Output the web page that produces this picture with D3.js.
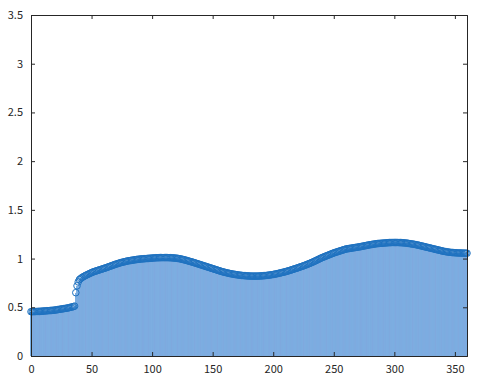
<!DOCTYPE html>
<html>
<head>
<meta charset="utf-8">
<script src="https://cdn.jsdelivr.net/npm/d3@7"></script>
<style>
  html, body { margin: 0; padding: 0; background: #fff; }
  svg { display: block; }
  text { font-family: "Noto Sans CJK JP", "Noto Sans", sans-serif; font-size: 11px; fill: #262626; }
</style>
</head>
<body>
<svg id="chart" width="477" height="378"></svg>
<script>
// Sample positions (degrees) and measured values
const angles = d3.range(0, 361);
const values = [
  0.455,0.455,0.456,0.456,0.457,0.457,0.458,0.458,0.459,0.460,
  0.461,0.462,0.463,0.464,0.465,0.466,0.467,0.468,0.469,0.470,
  0.472,0.474,0.476,0.478,0.480,0.482,0.484,0.486,0.488,0.490,
  0.492,0.495,0.498,0.501,0.504,0.507,0.512,0.650,0.720,0.760,
  0.785,0.795,0.805,0.812,0.819,0.826,0.832,0.838,0.844,0.850,
  0.856,0.861,0.866,0.870,0.874,0.878,0.882,0.886,0.890,0.894,
  0.898,0.902,0.906,0.911,0.915,0.920,0.924,0.929,0.933,0.938,
  0.942,0.946,0.950,0.954,0.958,0.961,0.964,0.967,0.970,0.973,
  0.976,0.978,0.980,0.982,0.984,0.986,0.988,0.990,0.992,0.993,
  0.995,0.996,0.997,0.998,0.999,1.000,1.001,1.002,1.003,1.004,
  1.005,1.006,1.007,1.008,1.008,1.009,1.009,1.010,1.010,1.010,
  1.010,1.010,1.010,1.010,1.009,1.009,1.008,1.007,1.006,1.005,
  1.004,1.002,1.000,0.998,0.995,0.992,0.989,0.986,0.983,0.979,
  0.975,0.972,0.968,0.965,0.961,0.957,0.953,0.949,0.945,0.941,
  0.937,0.933,0.929,0.925,0.921,0.917,0.913,0.909,0.905,0.901,
  0.897,0.893,0.889,0.885,0.881,0.877,0.873,0.869,0.865,0.862,
  0.859,0.856,0.853,0.850,0.847,0.845,0.842,0.840,0.838,0.836,
  0.834,0.832,0.830,0.829,0.827,0.826,0.825,0.824,0.823,0.822,
  0.821,0.821,0.820,0.820,0.820,0.820,0.820,0.820,0.821,0.821,
  0.822,0.823,0.824,0.825,0.826,0.828,0.829,0.831,0.833,0.835,
  0.837,0.839,0.842,0.844,0.847,0.850,0.853,0.856,0.859,0.862,
  0.865,0.869,0.872,0.876,0.880,0.884,0.888,0.892,0.896,0.900,
  0.904,0.908,0.913,0.917,0.921,0.926,0.930,0.935,0.940,0.945,
  0.950,0.955,0.961,0.966,0.972,0.978,0.984,0.990,0.996,1.002,
  1.008,1.013,1.018,1.023,1.028,1.033,1.038,1.043,1.048,1.053,
  1.058,1.062,1.066,1.070,1.074,1.078,1.082,1.086,1.090,1.094,
  1.098,1.100,1.102,1.104,1.106,1.108,1.110,1.112,1.114,1.116,
  1.118,1.120,1.122,1.125,1.127,1.130,1.132,1.135,1.137,1.140,
  1.142,1.144,1.146,1.148,1.150,1.152,1.154,1.155,1.156,1.157,
  1.158,1.159,1.160,1.161,1.162,1.163,1.164,1.164,1.165,1.165,
  1.165,1.165,1.165,1.165,1.164,1.164,1.163,1.162,1.161,1.160,
  1.159,1.157,1.155,1.153,1.151,1.149,1.147,1.145,1.142,1.140,
  1.137,1.134,1.131,1.128,1.125,1.122,1.119,1.116,1.113,1.110,
  1.107,1.104,1.101,1.098,1.095,1.092,1.089,1.086,1.083,1.080,
  1.077,1.074,1.072,1.070,1.068,1.066,1.064,1.063,1.062,1.061,
  1.060,1.059,1.058,1.058,1.057,1.057,1.056,1.056,1.056,1.055,
  1.055
];
const xTicks = [0, 50, 100, 150, 200, 250, 300, 350];
const yTicks = [0, 0.5, 1, 1.5, 2, 2.5, 3, 3.5];

const svg = d3.select("#chart");
const plotLeft = 31, plotRight = 467, plotTop = 15, plotBottom = 356;

const x = d3.scaleLinear().domain([0, 360]).range([plotLeft, plotRight]);
const y = d3.scaleLinear().domain([0, 3.5]).range([plotBottom, plotTop]);

const pts = angles.map((a, i) => ({ a, v: values[i] }));
const step = x(1) - x(0);

// Filled columns under each sample
svg.append("g")
  .selectAll("rect")
  .data(pts)
  .join("rect")
  .attr("x", d => x(d.a) - step / 2)
  .attr("width", step + 0.05)
  .attr("y", d => y(d.v))
  .attr("height", d => y(0) - y(d.v))
  .attr("fill", "#79bbea")
  .attr("shape-rendering", "crispEdges");

// Thin stems, one per sample
svg.append("g")
  .selectAll("line")
  .data(pts)
  .join("line")
  .attr("x1", d => x(d.a))
  .attr("x2", d => x(d.a))
  .attr("y1", y(0))
  .attr("y2", d => y(d.v))
  .attr("stroke", "#8c82c6")
  .attr("stroke-width", 0.32);

// Circle markers at each sample
svg.append("g")
  .selectAll("circle")
  .data(pts)
  .join("circle")
  .attr("cx", d => x(d.a))
  .attr("cy", d => y(d.v))
  .attr("r", 3.3)
  .attr("fill", "none")
  .attr("stroke", "#1f72c0")
  .attr("stroke-width", 1);

// Axes box with inward ticks on all sides
const axisColor = "#262626";
const tickLen = 4;

const xAxis = svg.append("g").attr("transform", `translate(0,${plotBottom})`)
  .call(d3.axisBottom(x).tickValues(xTicks).tickSize(-tickLen).tickPadding(9).tickFormat(d3.format("d")));
const xAxisTop = svg.append("g").attr("transform", `translate(0,${plotTop})`)
  .call(d3.axisTop(x).tickValues(xTicks).tickSize(-tickLen).tickFormat(""));
const yAxis = svg.append("g").attr("transform", `translate(${plotLeft},0)`)
  .call(d3.axisLeft(y).tickValues(yTicks).tickSize(-tickLen).tickPadding(8).tickFormat(d => String(d)));
const yAxisRight = svg.append("g").attr("transform", `translate(${plotRight},0)`)
  .call(d3.axisRight(y).tickValues(yTicks).tickSize(-tickLen).tickFormat(""));

[xAxis, xAxisTop, yAxis, yAxisRight].forEach(g => {
  g.selectAll(".domain").attr("stroke", axisColor).attr("stroke-width", 1);
  g.selectAll(".tick line").attr("stroke", axisColor);
  g.selectAll("text").attr("fill", axisColor).style("font-size", "11px");
});
xAxis.selectAll("text").attr("dy", "0.71em");
</script>
</body>
</html>
